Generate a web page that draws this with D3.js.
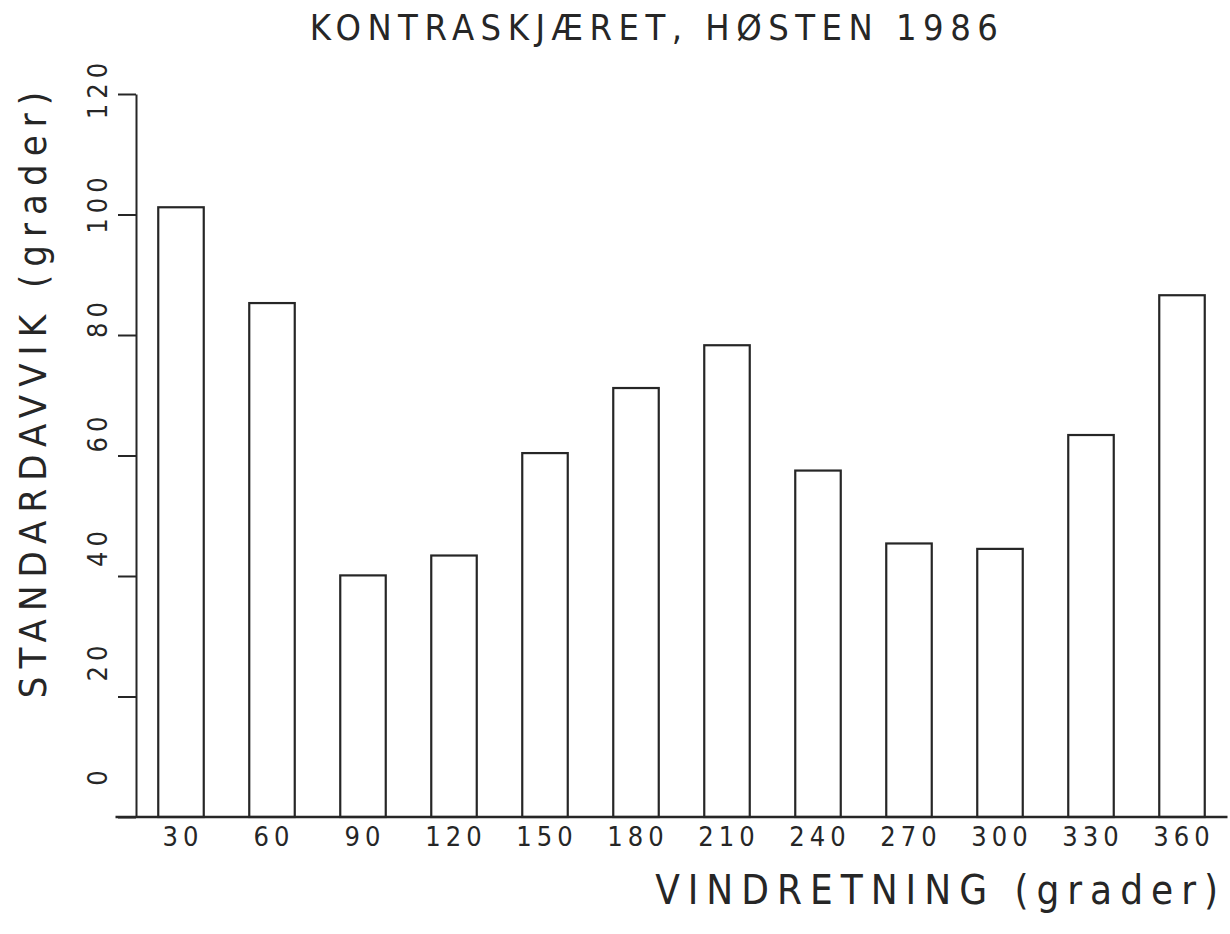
<!DOCTYPE html>
<html lang="no">
<head>
	<meta charset="utf-8">
	<title>Kontraskjæret, høsten 1986</title>
	<script src="https://cdn.jsdelivr.net/npm/d3@7"></script>
	<style>
		body { margin: 0; background: #fff; }
		text { font-family: "Liberation Sans Narrow", "DejaVu Sans Condensed", sans-serif; fill: #262626; }
		.axis path, .axis line { stroke: #262626; stroke-width: 2px; }
		.bar { fill: none; stroke: #262626; stroke-width: 2.2px; }
	</style>
</head>
<body>
	<div id="chart"></div>
	<script>
		// vindretning (grader) og standardavvik lest av figuren
		var retninger = ["30", "60", "90", "120", "150", "180", "210", "240", "270", "300", "330", "360"];
		var standardavvik = [101.2, 85.3, 40.1, 43.4, 60.4, 71.2, 78.3, 57.5, 45.4, 44.5, 63.4, 86.6];
		var yTicks = [0, 20, 40, 60, 80, 100, 120];

		var width = 1230,
			height = 934;

		var svg = d3.select("#chart")
			.append("svg")
			.attr("width", width)
			.attr("height", height);

		var x = d3.scaleBand()
			.domain(retninger)
			.range([135.5, 1227.5])
			.paddingInner(0.5)
			.paddingOuter(0.25);

		var y = d3.scaleLinear()
			.domain([0, 120])
			.range([817, 94]);

		// plotteren skrev tallene litt sammentrykt i forhold til tick-merkene
		var yLab = d3.scaleLinear()
			.domain([0, 120])
			.range([775, 88]);

		// bars
		svg.append("g")
			.selectAll("rect")
			.data(retninger)
			.enter().append("rect")
			.attr("class", "bar")
			.attr("x", function(d) { return x(d); })
			.attr("width", x.bandwidth())
			.attr("y", function(d, i) { return y(standardavvik[i]); })
			.attr("height", function(d, i) { return y(0) - y(standardavvik[i]); });

		// y-akse, tall rotert
		var yAxis = svg.append("g")
			.attr("class", "axis")
			.attr("transform", "translate(136,0)")
			.call(d3.axisLeft(y).tickValues(yTicks).tickSize(18).tickSizeOuter(0));

		yAxis.selectAll("text")
			.attr("x", null).attr("dy", null)
			.attr("transform", function(d) { return "translate(-37," + (yLab(d) - y(d)) + ") rotate(-90)"; })
			.attr("text-anchor", "middle")
			.attr("dominant-baseline", "middle")
			.style("font-size", "27px")
			.style("letter-spacing", "5px");

		// x-akse
		svg.append("line")
			.attr("x1", x.range()[0] - 20)
			.attr("x2", x.range()[1])
			.attr("y1", y(0))
			.attr("y2", y(0))
			.style("stroke", "#262626")
			.style("stroke-width", "2.5px");

		var xAxis = svg.append("g")
			.attr("class", "axis")
			.attr("transform", "translate(0," + y(0) + ")")
			.call(d3.axisBottom(x).tickSize(0).tickPadding(10));

		xAxis.select(".domain").remove();
		xAxis.selectAll("text")
			.style("font-size", "27px")
			.style("letter-spacing", "5px")
			.attr("dx", "2px");

		// titler
		svg.append("text")
			.attr("x", 657)
			.attr("y", 40)
			.attr("text-anchor", "middle")
			.style("font-size", "36px")
			.style("letter-spacing", "6.5px")
			.text("KONTRASKJÆRET, HØSTEN 1986");

		svg.append("text")
			.attr("x", 1226)
			.attr("y", 904)
			.attr("text-anchor", "end")
			.style("font-size", "40px")
			.style("letter-spacing", "8px")
			.text("VINDRETNING (grader)");

		svg.append("text")
			.attr("transform", "translate(46,391) rotate(-90)")
			.attr("text-anchor", "middle")
			.style("font-size", "38px")
			.style("letter-spacing", "8px")
			.text("STANDARDAVVIK (grader)");
	</script>
</body>
</html>
